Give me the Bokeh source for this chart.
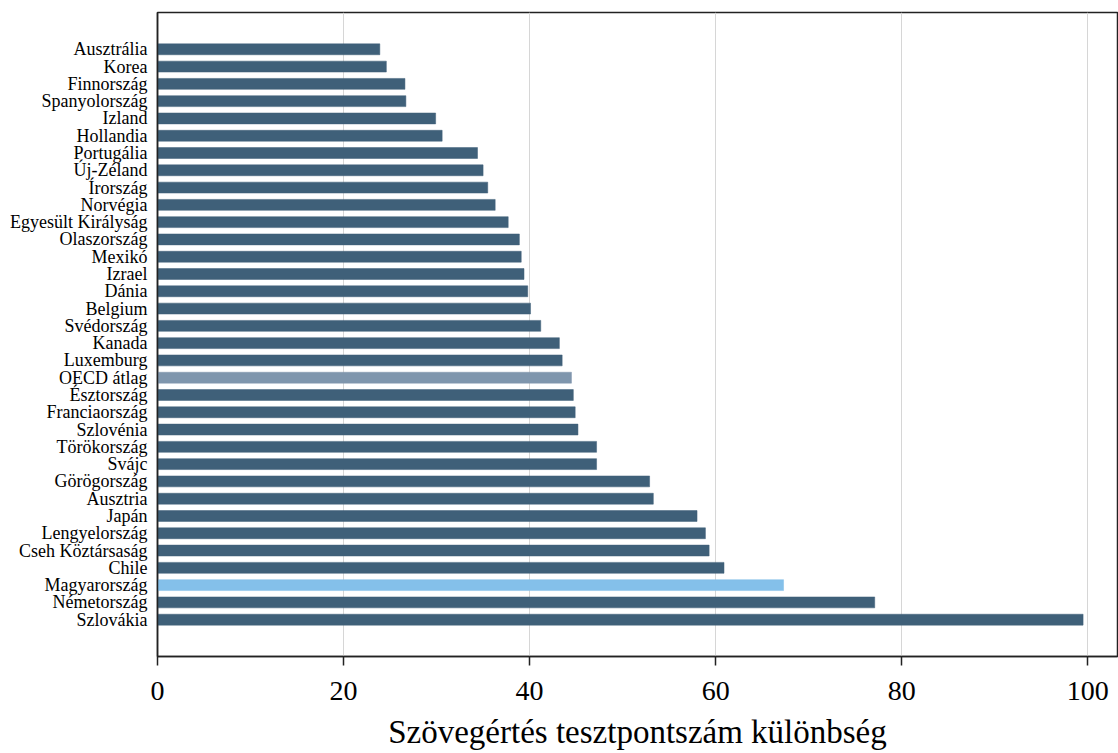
from bokeh.plotting import figure
from bokeh.models import FactorRange, Range1d, ColumnDataSource, FixedTicker
from bokeh.embed import file_html
from bokeh.resources import INLINE

countries = ["Ausztrália", "Korea", "Finnország", "Spanyolország", "Izland", "Hollandia",
             "Portugália", "Új-Zéland", "Írország", "Norvégia", "Egyesült Királyság",
             "Olaszország", "Mexikó", "Izrael", "Dánia", "Belgium", "Svédország", "Kanada",
             "Luxemburg", "OECD átlag", "Észtország", "Franciaország", "Szlovénia",
             "Törökország", "Svájc", "Görögország", "Ausztria", "Japán", "Lengyelország",
             "Cseh Köztársaság", "Chile", "Magyarország", "Németország", "Szlovákia"]
values = [23.9, 24.6, 26.6, 26.7, 29.9, 30.6, 34.4, 35.0, 35.5, 36.3, 37.7, 38.9, 39.1,
          39.4, 39.8, 40.1, 41.2, 43.2, 43.5, 44.5, 44.7, 44.9, 45.2, 47.2, 47.2, 52.9,
          53.3, 58.0, 58.9, 59.3, 60.9, 67.3, 77.1, 99.5]
x_ticks = [0, 20, 40, 60, 80, 100]

DARK = "#3f6079"
colors = []
for c in countries:
    if c == "OECD átlag":
        colors.append("#7f96ad")
    elif c == "Magyarország":
        colors.append("#84c0ea")
    else:
        colors.append(DARK)

src = ColumnDataSource(dict(country=countries, value=values, color=colors))

yr = FactorRange(*list(reversed(countries)), range_padding=1.63, range_padding_units="absolute")
p = figure(width=1118, height=752, y_range=yr, x_range=Range1d(0, 103.2),
           output_backend="svg", toolbar_location=None,
           min_border_left=157, min_border_right=1, min_border_top=12, min_border_bottom=91)

p.hbar(y="country", right="value", left=0, height=0.63, fill_color="color",
       line_color="color", line_alpha=0.5, source=src)

p.outline_line_color="#222222"
p.outline_line_width=1.5
p.ygrid.visible = False
p.xgrid.grid_line_color = "#d6d6d6"
p.xgrid.grid_line_width = 1
p.xgrid.ticker = FixedTicker(ticks=x_ticks)

p.xaxis.ticker = FixedTicker(ticks=x_ticks)
p.xaxis.axis_label = "Szövegértés tesztpontszám különbség"
p.xaxis.axis_label_text_font = "Liberation Serif"
p.xaxis.axis_label_text_font_style = "normal"
p.xaxis.axis_label_text_font_size = "33px"
p.xaxis.axis_label_text_color = "#000000"
p.xaxis.axis_label_standoff = 11
p.xaxis.major_label_text_font = "Liberation Serif"
p.xaxis.major_label_text_font_size = "28px"
p.xaxis.major_label_text_color = "#000000"
p.xaxis.major_label_standoff = 16
p.xaxis.major_tick_out = 9
p.xaxis.major_tick_in = 0
p.xaxis.minor_tick_out = 0
p.xaxis.minor_tick_in = 0
p.xaxis.axis_line_color = "#222222"
p.xaxis.axis_line_width = 1.5
p.xaxis.major_tick_line_color = "#222222"
p.xaxis.major_tick_line_width = 1.5

p.yaxis.major_label_text_font = "Liberation Serif"
p.yaxis.major_label_text_font_size = "18px"
p.yaxis.major_label_text_color = "#000000"
p.yaxis.major_tick_out = 0
p.yaxis.major_tick_in = 0
p.yaxis.major_label_standoff = 10
p.yaxis.axis_line_color = "#222222"
p.yaxis.axis_line_width = 1.5

open("out.html", "w").write(file_html(p, INLINE))
